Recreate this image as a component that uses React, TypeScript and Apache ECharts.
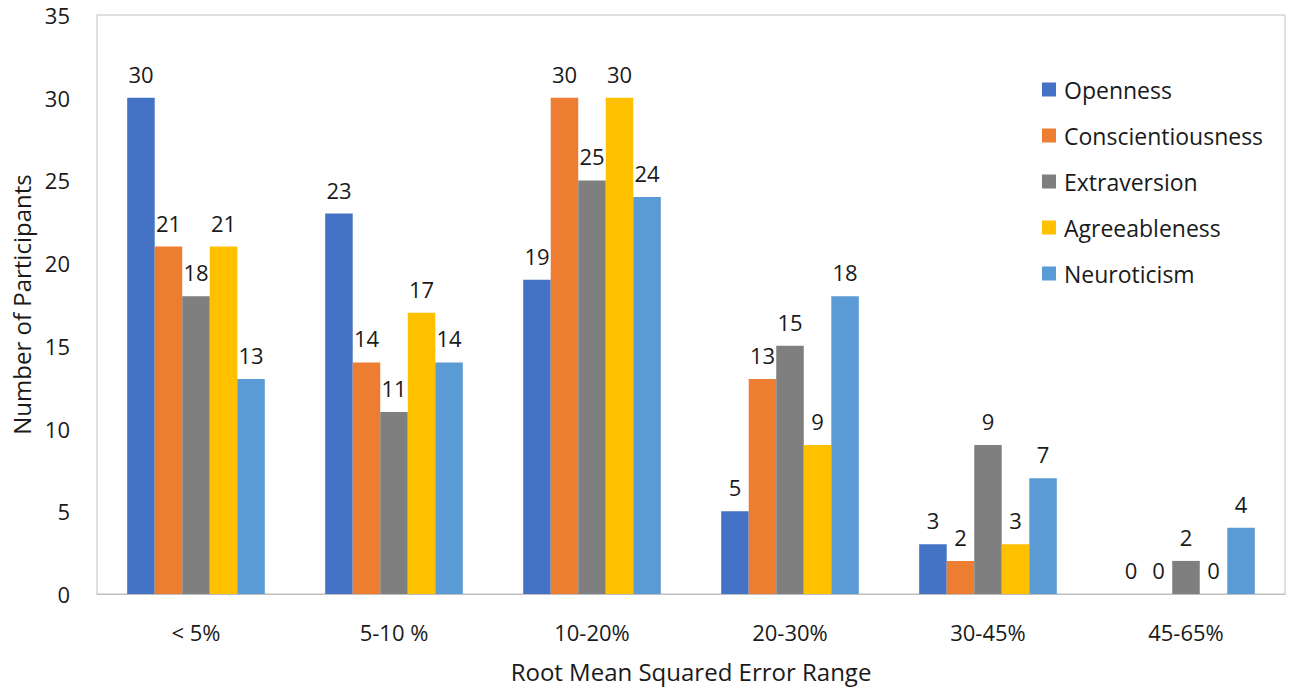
import React, { useEffect, useRef } from "react";
import * as echarts from "echarts";

const categories = ["< 5%", "5-10 %", "10-20%", "20-30%", "30-45%", "45-65%"];
const seriesNames = ["Openness", "Conscientiousness", "Extraversion", "Agreeableness", "Neuroticism"];
const openness = [30, 23, 19, 5, 3, 0];
const conscientiousness = [21, 14, 30, 13, 2, 0];
const extraversion = [18, 11, 25, 15, 9, 2];
const agreeableness = [21, 17, 30, 9, 3, 0];
const neuroticism = [13, 14, 24, 18, 7, 4];
const colors = ["#4472C4", "#ED7D31", "#7F7F7F", "#FFC000", "#5B9BD5"];
const yTicks = { min: 0, max: 35, interval: 5 };

const FONT = "'Open Sans', 'Noto Sans', sans-serif";
const FS = 22;
const TXT = "#1a1a1a";

export default function App() {
  const ref = useRef<HTMLDivElement>(null);
  useEffect(() => {
    document.body.style.margin = "0";
    if (!ref.current) return;
    const chart = echarts.init(ref.current, undefined, { renderer: "svg" });
    const data = [openness, conscientiousness, extraversion, agreeableness, neuroticism];
    chart.setOption({
      animation: false,
      backgroundColor: "#ffffff",
      textStyle: { fontFamily: FONT },
      grid: {
        left: 97,
        top: 15,
        right: 7,
        bottom: 93,
        show: true,
        borderColor: "#BFBFBF",
        borderWidth: 1,
      },
      legend: {
        orient: "vertical",
        left: 1037,
        top: 73,
        itemWidth: 14,
        itemHeight: 14,
        itemGap: 23,
        icon: "rect",
        data: seriesNames,
        textStyle: { fontSize: 23, color: TXT, fontFamily: FONT, padding: [0, 0, 0, 3] },
      },
      xAxis: {
        type: "category",
        data: categories,
        axisLine: { show: true, lineStyle: { color: "#BFBFBF" } },
        axisTick: { show: false },
        axisLabel: { fontSize: FS, color: TXT, margin: 27, fontFamily: FONT },
        name: "Root Mean Squared Error Range",
        nameLocation: "middle",
        nameGap: 65,
        nameTextStyle: { fontSize: 24, color: TXT, fontFamily: FONT },
      },
      yAxis: {
        type: "value",
        min: yTicks.min,
        max: yTicks.max,
        interval: yTicks.interval,
        splitLine: { show: false },
        axisLine: { show: false },
        axisTick: { show: false },
        axisLabel: { fontSize: FS, color: TXT, margin: 27, fontFamily: FONT },
        name: "Number of Participants",
        nameLocation: "middle",
        nameGap: 64,
        nameTextStyle: { fontSize: 24, color: TXT, fontFamily: FONT },
      },
      series: seriesNames.map((name, i) => ({
        name,
        type: "bar",
        data: data[i],
        barGap: "0%",
        barCategoryGap: "30.5%",
        itemStyle: { color: colors[i] },
        label: {
          show: true,
          position: "top",
          distance: 13,
          fontSize: FS,
          color: TXT,
          fontFamily: FONT,
        },
      })),
    });
    return () => chart.dispose();
  }, []);
  return <div ref={ref} style={{ width: 1292, height: 688 }} />;
}
